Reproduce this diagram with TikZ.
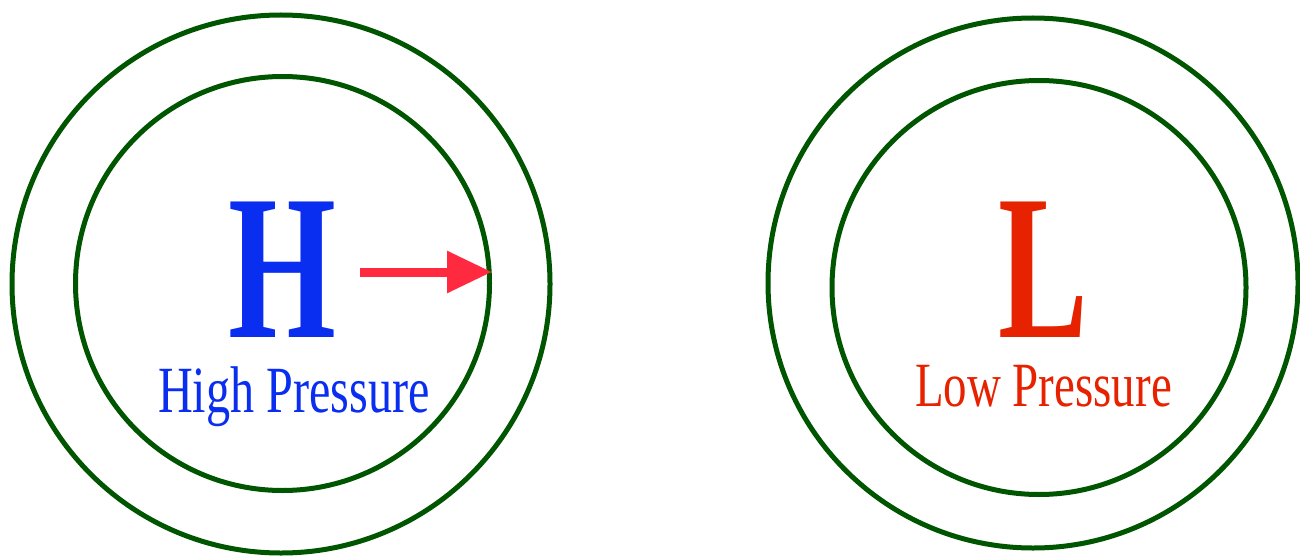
\documentclass[tikz,border=0pt]{standalone}
\usepackage{fontspec}
\setmainfont{Liberation Serif}
\usetikzlibrary{arrows.meta}
\definecolor{ringgreen}{RGB}{0,85,0}
\definecolor{hblue}{RGB}{10,46,240}
\definecolor{lred}{RGB}{230,34,0}
\definecolor{arrred}{RGB}{255,42,64}
\tikzset{
  ring/.style={draw=ringgreen, line width=5pt, circle, minimum size=#1, inner sep=0pt},
  bigletter/.style={font=\bfseries\fontsize{207}{207}\selectfont, anchor=base, inner sep=0pt, text height=140pt, text depth=0pt},
  label/.style={font=\fontsize{66}{66}\selectfont, anchor=base, inner sep=0pt, text height=46pt, text depth=12pt},
}
\begin{document}
\begin{tikzpicture}[x=1pt,y=-1pt]
\useasboundingbox (0,0) rectangle (1300,559);
% left system
\node[ring=538pt] (hout) at (281,284) {};
\node[ring=414pt] (hin) at (282.5,283.5) {};
\node[bigletter, text=hblue, xscale=0.67] (H) at (282,337) {H};
\node[label, text=hblue, xscale=0.73] (hlab) at (294,412) {High Pressure};
\coordinate (astart) at (360,272);
\coordinate (aend) at (492,272);
\draw[arrred, line width=9pt, -{Triangle[length=45pt,width=40pt]}] (astart) -- (aend);
% right system
\node[ring=530pt] (lout) at (1033,283) {};
\node[ring=414pt] (lin) at (1039,287.5) {};
\node[bigletter, text=lred, xscale=0.65] (L) at (1043,337) {L};
\node[label, text=lred, xscale=0.745, font=\fontsize{63}{63}\selectfont] (llab) at (1043.5,406) {Low Pressure};
\end{tikzpicture}
\end{document}
